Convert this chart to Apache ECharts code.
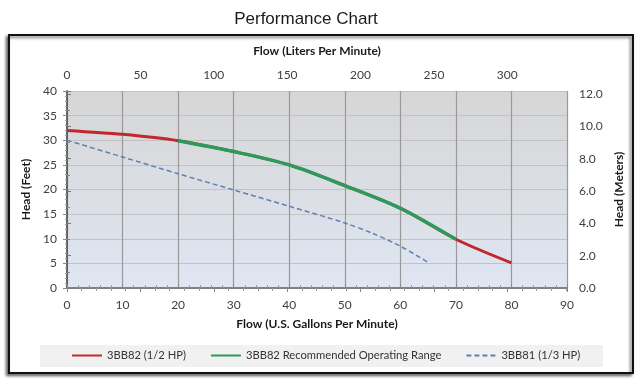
<!DOCTYPE html>
<html><head><meta charset="utf-8">
<script src="https://cdn.jsdelivr.net/npm/echarts@6/dist/echarts.min.js"></script>
<style>html,body{margin:0;padding:0;background:#fff}#c{width:640px;height:385px}</style>
</head><body><div id="c"></div>
<script>
// ---- data ----
const redGpm = [0, 10, 20, 30, 40, 50, 60, 70, 80];
const redFt = [32, 31.2, 29.9, 27.7, 25, 20.8, 16.2, 9.9, 5.1];
const greenGpm = [20, 30, 40, 50, 60, 70];
const greenFt = [29.9, 27.7, 25, 20.8, 16.2, 9.9];
const blueGpm = [0, 10, 20, 30, 40, 50, 55, 60, 65];
const blueFt = [30, 26.6, 23.2, 19.9, 16.6, 13.2, 11.1, 8.5, 5.2];
const seriesNames = ['3BB82 (1/2 HP)', '3BB82 Recommended Operating Range', '3BB81 (1/3 HP)'];
const gpmTicks = [0, 10, 20, 30, 40, 50, 60, 70, 80, 90];
const lpmTicks = [0, 50, 100, 150, 200, 250, 300];
const ftTicks = [0, 5, 10, 15, 20, 25, 30, 35, 40];
const mTicks = [0, 2, 4, 6, 8, 10, 12];

const GAL_TO_L = 3.78541, FT_TO_M = 0.3048;
const gpmMax = gpmTicks[gpmTicks.length - 1];
const ftMax = ftTicks[ftTicks.length - 1];
const pair = (xs, ys) => xs.map((x, i) => [x, ys[i]]);

const font = 'Lato';
const chart = echarts.init(document.getElementById('c'), null, {renderer: 'canvas'});
const labelStyle = {fontFamily: font, fontSize: 12, color: '#404040'};
const nameStyle = {fontFamily: font, fontSize: 12, fontWeight: 'bold', color: '#1a1a1a'};

chart.setOption({
  animation: false,
  backgroundColor: '#fff',
  graphic: [
    {type: 'rect', shape: {x: 9, y: 35, width: 624, height: 338}, z: -10,
     style: {fill: '#fff', stroke: '#111', lineWidth: 2,
             shadowColor: 'rgba(0,0,0,0.55)', shadowBlur: 3, shadowOffsetX: -2, shadowOffsetY: 2}},
    {type: 'rect', shape: {x: 40, y: 345, width: 563, height: 22}, z: -5,
     style: {fill: '#f1f1f1'}},
    {type: 'text', x: 306, y: 11, z: 5,
     style: {text: 'Performance Chart', fontFamily: 'Liberation Sans', fontSize: 17,
             fill: '#1a1a1a', textAlign: 'center', textVerticalAlign: 'top'}}
  ],
  grid: {left: 67, right: 73, top: 91, bottom: 97, show: true, borderWidth: 0,
    backgroundColor: {type: 'linear', x: 0, y: 0, x2: 0, y2: 1,
      colorStops: [{offset: 0, color: '#d6d6d6'}, {offset: 1, color: '#dfe6f2'}]}},
  legend: {
    bottom: 19, left: 66, itemWidth: 30, itemHeight: 3, itemGap: 24,
    itemStyle: {opacity: 0},
    textStyle: {fontFamily: font, fontSize: 11.2, color: '#333'},
    data: seriesNames
  },
  xAxis: [
    {type: 'value', position: 'bottom', min: 0, max: gpmMax, interval: 10,
     name: 'Flow (U.S. Gallons Per Minute)', nameLocation: 'middle', nameGap: 30, nameTextStyle: nameStyle,
     axisLine: {show: true, lineStyle: {color: '#8a8a8a', width: 1.5}},
     axisTick: {show: true, inside: true, length: 4, lineStyle: {color: '#888'}},
     minorTick: {show: true, splitNumber: 5, length: 3, lineStyle: {color: '#999'}},
     axisLabel: Object.assign({margin: 11}, labelStyle),
     splitLine: {show: true, lineStyle: {color: '#999', width: 1.2}}},
    {type: 'value', position: 'top', min: 0, max: gpmMax * GAL_TO_L, interval: 50,
     name: 'Flow (Liters Per Minute)', nameLocation: 'middle', nameGap: 34, nameTextStyle: nameStyle,
     axisLine: {show: true, lineStyle: {color: '#777', width: 1.5}},
     axisTick: {show: true, inside: true, length: 4, lineStyle: {color: '#888'}},
     minorTick: {show: true, splitNumber: 5, length: 3, lineStyle: {color: '#999'}},
     axisLabel: Object.assign({margin: 10, showMaxLabel: false}, labelStyle),
     splitLine: {show: false}}
  ],
  yAxis: [
    {type: 'value', position: 'left', min: 0, max: ftMax, interval: 5,
     name: 'Head (Feet)', nameLocation: 'middle', nameGap: 32, nameTextStyle: nameStyle,
     axisLine: {show: true, lineStyle: {color: '#8a8a8a', width: 1.5}},
     axisTick: {show: true, length: 4, lineStyle: {color: '#888'}},
     minorTick: {show: true, splitNumber: 5, length: 2, lineStyle: {color: '#999'}},
     axisLabel: Object.assign({margin: 10}, labelStyle),
     splitLine: {show: true, lineStyle: {color: '#c2c2c2', width: 1.2}}},
    {type: 'value', position: 'right', min: 0, max: ftMax * FT_TO_M, interval: 2,
     name: 'Head (Meters)', nameLocation: 'middle', nameGap: 44, nameTextStyle: nameStyle,
     axisLine: {show: true, lineStyle: {color: '#555', width: 1.5}},
     axisTick: {show: true, length: 4, lineStyle: {color: '#777'}},
     minorTick: {show: true, splitNumber: 2, length: 3, lineStyle: {color: '#888'}},
     axisLabel: Object.assign({margin: 12, showMaxLabel: false, formatter: v => v.toFixed(1)}, labelStyle),
     splitLine: {show: false}}
  ],
  series: [
    {name: seriesNames[0], type: 'line', xAxisIndex: 0, yAxisIndex: 0, smooth: 0.3, symbol: 'none',
     data: pair(redGpm, redFt), color: '#c0282e',
     lineStyle: {width: 3, color: '#c0282e'}, z: 3},
    {name: seriesNames[1], type: 'line', xAxisIndex: 0, yAxisIndex: 0, smooth: 0.3, symbol: 'none',
     data: pair(greenGpm, greenFt), color: '#2e9a5a',
     lineStyle: {width: 3.5, color: '#2e9a5a'}, z: 4},
    {name: seriesNames[2], type: 'line', xAxisIndex: 0, yAxisIndex: 0, smooth: 0.3, symbol: 'none',
     data: pair(blueGpm, blueFt), color: '#5f80b4',
     lineStyle: {width: 1.5, color: '#5f80b4', type: [5, 3]}, z: 3}
  ]
});
</script></body></html>
